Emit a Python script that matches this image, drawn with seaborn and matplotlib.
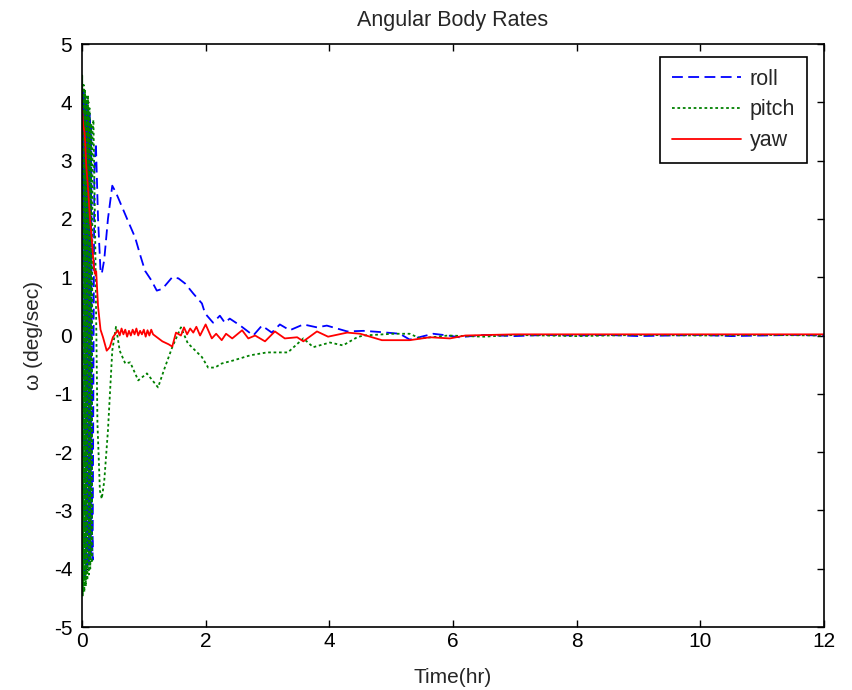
import numpy as np
import pandas as pd
import matplotlib
matplotlib.use("Agg")
import matplotlib.pyplot as plt
import seaborn as sns

# ============================
# DATA
# ============================
roll_t = [0.000, 0.006, 0.018, 0.030, 0.042, 0.054, 0.066, 0.078, 0.090, 0.102, 0.114, 0.126,
          0.138, 0.150, 0.162, 0.172, 0.200, 0.225, 0.260, 0.300, 0.320, 0.360, 0.420, 0.490,
          0.550, 0.650, 0.750, 0.860, 0.950, 1.020, 1.120, 1.210, 1.300, 1.460, 1.560, 1.670,
          1.800, 1.940, 1.990, 2.120, 2.230, 2.310, 2.390, 2.560, 2.770, 2.910, 3.070, 3.200,
          3.360, 3.580, 3.800, 3.960, 4.290, 4.550, 4.820, 5.140, 5.300, 5.680, 5.920, 6.100,
          6.500, 7.000, 7.500, 8.000, 8.500, 9.000, 9.500, 10.00, 10.50, 11.00, 11.50, 12.00]
roll_v = [0.0, 4.2, -4.1, 4.2, -4.2, 4.1, -4.1, 4.0, -4.0, 3.9, -3.9, 3.8,
          -3.8, 3.6, -3.3, -3.85, 2.8, 3.3, 2.0, 1.1, 1.06, 1.3, 2.0, 2.57,
          2.45, 2.2, 1.95, 1.68, 1.35, 1.11, 0.95, 0.77, 0.80, 1.0, 0.98, 0.89,
          0.72, 0.55, 0.38, 0.22, 0.34, 0.22, 0.29, 0.17, 0.0, 0.17, 0.05, 0.19,
          0.09, 0.19, 0.14, 0.17, 0.07, 0.08, 0.06, 0.03, -0.07, 0.03, 0.0, -0.03,
          0.01, -0.01, 0.01, 0.0, 0.01, -0.01, 0.0, 0.01, -0.01, 0.0, 0.01, 0.0]

pitch_t = [0.000, 0.004, 0.014, 0.026, 0.038, 0.050, 0.062, 0.074, 0.086, 0.098, 0.110, 0.122,
           0.134, 0.146, 0.158, 0.170, 0.185, 0.210, 0.250, 0.290, 0.320, 0.360, 0.420, 0.490,
           0.550, 0.610, 0.700, 0.780, 0.910, 1.050, 1.230, 1.340, 1.460, 1.600, 1.710, 1.940,
           2.040, 2.150, 2.260, 2.440, 2.720, 2.990, 3.330, 3.580, 3.740, 4.010, 4.220, 4.450,
           4.550, 5.030, 5.300, 5.470, 5.920, 6.500, 7.000, 8.000, 9.000, 10.00, 11.00, 12.00]
pitch_v = [0.0, 4.46, -4.46, 4.3, -4.4, 4.2, -4.3, 4.1, -4.2, 4.1, -4.1, 3.9,
           -4.0, 3.64, -3.9, 3.5, 3.7, 2.0, -1.5, -2.66, -2.8, -2.5, -1.63, -0.26,
           0.15, -0.26, -0.48, -0.46, -0.77, -0.65, -0.89, -0.55, -0.2, 0.14, -0.13, -0.37,
           -0.55, -0.55, -0.48, -0.43, -0.34, -0.29, -0.29, -0.05, -0.2, -0.12, -0.17, -0.03,
           0.0, 0.03, 0.03, -0.05, 0.0, -0.02, 0.01, -0.01, 0.01, 0.0, 0.01, 0.0]

yaw_t = [0.00, 0.02, 0.04, 0.05, 0.07, 0.10, 0.13, 0.16, 0.19, 0.21, 0.23, 0.26, 0.30, 0.34,
         0.40, 0.45, 0.50, 0.58, 0.61, 0.64, 0.67, 0.70, 0.73, 0.76, 0.79, 0.82, 0.85, 0.88,
         0.91, 0.94, 0.97, 1.00, 1.03, 1.06, 1.09, 1.12, 1.15, 1.20, 1.30, 1.40, 1.46, 1.52,
         1.60, 1.65, 1.70, 1.75, 1.80, 1.85, 1.91, 2.00, 2.10, 2.17, 2.26, 2.33, 2.43, 2.59,
         2.69, 2.80, 2.96, 3.12, 3.28, 3.48, 3.58, 3.80, 3.98, 4.29, 4.50, 4.85, 5.30, 5.63,
         5.95, 6.20, 7.00, 8.00, 9.00, 10.0, 11.0, 12.0]
yaw_v = [3.9, 3.6, 3.5, 3.35, 2.9, 2.5, 2.0, 1.63, 1.2, 1.06, 1.1, 0.5, 0.1, -0.03,
         -0.26, -0.2, -0.03, 0.09, 0.0, 0.12, 0.02, 0.1, -0.02, 0.08, 0.0, 0.1, 0.02, 0.12,
         0.0, 0.08, 0.02, 0.1, -0.02, 0.09, 0.0, 0.1, 0.02, -0.02, -0.1, -0.15, -0.19, 0.05,
         0.0, 0.14, 0.02, 0.12, 0.05, 0.15, 0.0, 0.19, -0.05, 0.03, -0.08, 0.03, -0.05, 0.09,
         -0.05, 0.0, -0.1, 0.07, -0.05, -0.03, -0.1, 0.07, -0.02, 0.05, 0.03, -0.08, -0.08, -0.03,
         -0.05, 0.0, 0.02, 0.02, 0.02, 0.02, 0.02, 0.02]

# ============================
# PLOT
# ============================
sns.set_style("ticks")
plt.rcParams['font.family'] = ['Liberation Sans', 'DejaVu Sans']
plt.rcParams['axes.unicode_minus'] = False

fig = plt.figure(figsize=(8.53, 6.9), dpi=100)
ax = fig.add_axes([0.0961, 0.0913, 0.8699, 0.8449])

sns.lineplot(x=roll_t, y=roll_v, ax=ax, color=(0, 0, 1), linestyle=(0, (6, 3)),
             linewidth=1.3, label='roll', sort=False, estimator=None)
sns.lineplot(x=pitch_t, y=pitch_v, ax=ax, color=(0, 0.5, 0), linestyle=(0, (1.5, 1.5)),
             linewidth=1.3, label='pitch', sort=False, estimator=None)
sns.lineplot(x=yaw_t, y=yaw_v, ax=ax, color=(1, 0, 0), linestyle='-',
             linewidth=1.3, label='yaw', sort=False, estimator=None)

ax.set_xlim(0, 12)
ax.set_ylim(-5, 5)
ax.set_xticks(np.arange(0, 13, 2))
ax.set_yticks(np.arange(-5, 6, 1))
ax.tick_params(direction='in', top=True, right=True, length=5, width=1.0,
               labelsize=15, colors='black')
ax.tick_params(axis='y', pad=7)
for s in ax.spines.values():
    s.set_visible(True)
    s.set_linewidth(1.2)
    s.set_color('black')

ax.set_xlabel('Time(hr)', fontsize=15, labelpad=12)
ax.set_ylabel('ω (deg/sec)', fontsize=15, labelpad=8)
ax.set_title('Angular Body Rates', fontsize=15.5, pad=13)

leg = ax.legend(loc='upper right', bbox_to_anchor=(0.977, 0.978), borderaxespad=0,
                fontsize=15.5, frameon=True, fancybox=False, edgecolor='black',
                framealpha=1, handlelength=3.2, handletextpad=0.4, labelspacing=0.45,
                borderpad=0.55)
leg.get_frame().set_linewidth(1.2)

plt.savefig('out.png', dpi=100)
